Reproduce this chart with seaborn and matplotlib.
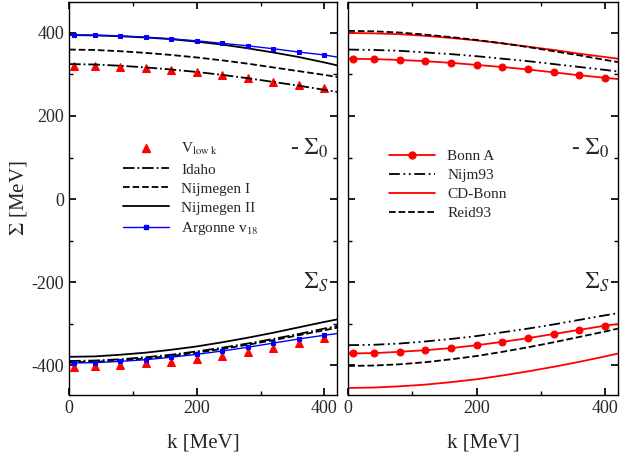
import numpy as np
import seaborn as sns
import matplotlib
matplotlib.use("Agg")
import matplotlib.pyplot as plt
from matplotlib.ticker import MultipleLocator
from matplotlib.lines import Line2D

sns.set_theme(style="ticks")
plt.rcParams["font.family"] = "Liberation Serif"
plt.rcParams["mathtext.fontset"] = "stix"
plt.rcParams["axes.unicode_minus"] = False

# malla de momentos para las curvas y puntos con marcadores
k_linea = [0, 40, 80, 120, 160, 200, 240, 280, 320, 360, 400, 420]
k_marca = [8, 40, 80, 120, 160, 200, 240, 280, 320, 360, 400]

# panel izquierdo, -Sigma_0
vlowk_0 = [320, 320, 318, 315, 311, 306, 299, 292, 283, 275, 268]
argonne_0 = [395, 395, 393, 390, 386, 381, 375, 369, 362, 354, 347]
argonne_0_linea = [395, 395, 393, 390, 386, 381, 375, 369, 362, 354, 347, 342]
idaho_0 = [325, 324, 321, 317, 312, 306, 299, 291, 282, 273, 263, 258]
nijm1_0 = [360, 359, 356, 352, 347, 341, 334, 326, 317, 308, 299, 294]
nijm2_0 = [395, 394, 392, 389, 385, 379, 372, 363, 353, 342, 329, 322]
# panel izquierdo, Sigma_S
vlowk_s = [-405, -402, -400, -396, -392, -385, -378, -368, -358, -347, -335]
argonne_s = [-395, -394, -391, -387, -381, -374, -366, -357, -347, -337, -328]
argonne_s_linea = [-395, -394, -391, -387, -381, -374, -366, -357, -347, -337, -328, -324]
idaho_s = [-390, -389, -386, -381, -375, -367, -358, -348, -337, -325, -312, -306]
nijm1_s = [-393, -392, -389, -384, -378, -370, -361, -351, -340, -328, -316, -310]
nijm2_s = [-380, -379, -375, -370, -363, -355, -345, -334, -322, -309, -296, -290]

# panel derecho, -Sigma_0
bonna_0 = [338, 337, 335, 332, 328, 323, 318, 312, 305, 298, 292]
bonna_0_linea = [338, 337, 335, 332, 328, 323, 318, 312, 305, 298, 292, 289]
nijm93_0 = [360, 359, 357, 353, 349, 344, 338, 332, 325, 318, 311, 307]
cdbonn_0 = [400, 399, 397, 393, 388, 382, 375, 367, 359, 350, 342, 338]
reid93_0 = [405, 404, 401, 396, 390, 383, 375, 366, 356, 346, 335, 330]
# panel derecho, Sigma_S
bonna_s = [-372, -371, -368, -364, -359, -352, -344, -335, -325, -315, -305]
bonna_s_linea = [-372, -371, -368, -364, -359, -352, -344, -335, -325, -315, -305, -301]
nijm93_s = [-352, -351, -348, -343, -337, -330, -321, -312, -302, -291, -280, -275]
cdbonn_s = [-455, -454, -451, -447, -441, -434, -425, -415, -404, -392, -379, -372]
reid93_s = [-402, -401, -398, -393, -386, -378, -368, -357, -345, -332, -319, -312]

fig = plt.figure(figsize=(6.23, 4.53), dpi=100)
ax1 = fig.add_axes([0.111, 0.128, 0.430, 0.868])
ax2 = fig.add_axes([0.559, 0.128, 0.433, 0.868])

def linea(ax, x, y, **kw):
    sns.lineplot(x=x, y=y, ax=ax, legend=False, sort=False, **kw)

DDOT = (0, (6, 2, 1, 2, 1, 2))

# izquierda
for y in (vlowk_0, vlowk_s):
    linea(ax1, k_marca, y, color="red", marker="^", markersize=6,
          linestyle="none", markeredgecolor="red")
for y in (idaho_0, idaho_s):
    linea(ax1, k_linea, y, color="black", linestyle="-.", linewidth=1.3)
for y in (nijm1_0, nijm1_s):
    linea(ax1, k_linea, y, color="black", linestyle="--", linewidth=1.3)
for y in (nijm2_0, nijm2_s):
    linea(ax1, k_linea, y, color="black", linewidth=1.3)
for yl, ym in ((argonne_0_linea, argonne_0), (argonne_s_linea, argonne_s)):
    linea(ax1, k_linea, yl, color="blue", linewidth=1)
    linea(ax1, k_marca, ym, color="blue", marker="s", markersize=3.5, linestyle="none",
          markeredgecolor="blue")
handles1 = [Line2D([], [], color="red", marker="^", markersize=6, linestyle="none"),
            Line2D([], [], color="black", linestyle="-.", linewidth=1.3),
            Line2D([], [], color="black", linestyle="--", linewidth=1.3),
            Line2D([], [], color="black", linewidth=1.3),
            Line2D([], [], color="blue", marker="s", markersize=3.5, linewidth=1)]
ax1.legend(handles1, [r"V$_{\rm low\ k}$", "Idaho", "Nijmegen I", "Nijmegen II",
                      r"Argonne v$_{18}$"],
           loc="upper left", bbox_to_anchor=(0.15, 0.68), frameon=False, fontsize=11,
           handlelength=3, labelspacing=0.35)

# derecha
for yl, ym in ((bonna_0_linea, bonna_0), (bonna_s_linea, bonna_s)):
    linea(ax2, k_linea, yl, color="red", linewidth=1.3)
    linea(ax2, k_marca, ym, color="red", marker="o", markersize=5, linestyle="none",
          markeredgecolor="red")
for y in (nijm93_0, nijm93_s):
    linea(ax2, k_linea, y, color="black", linestyle=DDOT, linewidth=1.3)
for y in (cdbonn_0, cdbonn_s):
    linea(ax2, k_linea, y, color="red", linewidth=1.3)
for y in (reid93_0, reid93_s):
    linea(ax2, k_linea, y, color="black", linestyle="--", linewidth=1.3)
handles2 = [Line2D([], [], color="red", marker="o", markersize=5, linewidth=1.3),
            Line2D([], [], color="black", linestyle=DDOT, linewidth=1.3),
            Line2D([], [], color="red", linewidth=1.3),
            Line2D([], [], color="black", linestyle="--", linewidth=1.3)]
ax2.legend(handles2, ["Bonn A", "Nijm93", "CD-Bonn", "Reid93"],
           loc="upper left", bbox_to_anchor=(0.1, 0.66), frameon=False, fontsize=11,
           handlelength=3, labelspacing=0.35)

for ax in (ax1, ax2):
    ax.set_xlim(0, 420)
    ax.set_ylim(-472, 475)
    ax.xaxis.set_major_locator(MultipleLocator(200))
    ax.xaxis.set_minor_locator(MultipleLocator(100))
    ax.yaxis.set_major_locator(MultipleLocator(200))
    ax.yaxis.set_minor_locator(MultipleLocator(100))
    ax.tick_params(which="both", direction="in", top=True, right=True, labelsize=13,
                   color="black", length=5)
    ax.tick_params(which="minor", length=3)
    for s in ax.spines.values():
        s.set_color("black")
        s.set_linewidth(1)
    ax.set_xlabel("k [MeV]", fontsize=15, labelpad=12)
    ax.text(0.97, 0.61, r"- $\Sigma_0$", transform=ax.transAxes, ha="right", fontsize=17)
    ax.text(0.97, 0.27, r"$\Sigma_S$", transform=ax.transAxes, ha="right", fontsize=17)
ax2.set_yticklabels([])
ax1.set_ylabel(r"$\Sigma$ [MeV]", fontsize=15, labelpad=2)

fig.savefig("out.png", dpi=100)
